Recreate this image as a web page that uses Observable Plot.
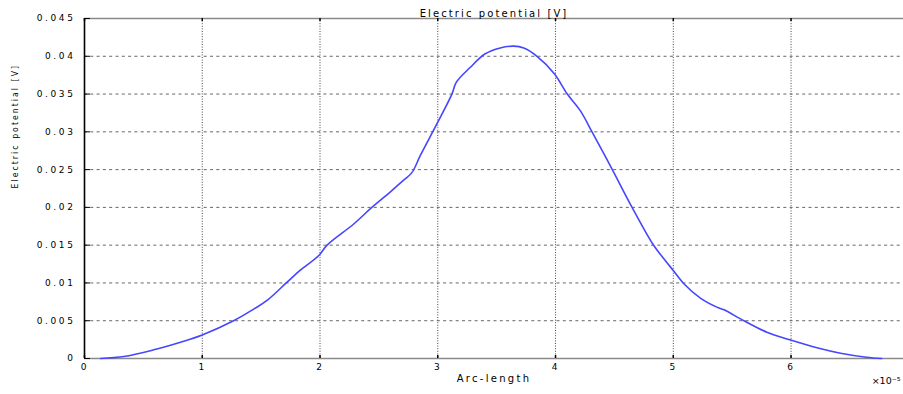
<!DOCTYPE html>
<html>
<head>
<meta charset="utf-8">
<script src="https://cdn.jsdelivr.net/npm/d3@7"></script>
<script src="https://cdn.jsdelivr.net/npm/@observablehq/plot@0.6"></script>
<style>
  html, body { margin: 0; padding: 0; background: #fff; overflow: hidden; }
  #chart svg { display: block; }
</style>
</head>
<body>
<div id="chart"></div>
<script>
// Arc-length (×10^-5)
const arcLength = [0.136, 0.334, 0.588, 0.815, 1.0, 1.27, 1.44, 1.55, 1.72, 1.83, 1.99, 2.06, 2.286, 2.44, 2.60, 2.71, 2.78, 2.852, 3.0, 3.12, 3.158, 3.277, 3.40, 3.53, 3.645, 3.73, 3.843, 3.99, 4.10, 4.21, 4.31, 4.48, 4.65, 4.83, 4.93, 5.0, 5.09, 5.23, 5.37, 5.43, 5.60, 5.795, 5.99, 6.22, 6.42, 6.64, 6.77];
// Electric potential [V]
const potential = [0, 0.00026, 0.00115, 0.00216, 0.00312, 0.00503, 0.00657, 0.00768, 0.0101, 0.01165, 0.01363, 0.0150, 0.0178, 0.0200, 0.0221, 0.0236, 0.0246, 0.02687, 0.03128, 0.0350, 0.03657, 0.03855, 0.0403, 0.0411, 0.04134, 0.0411, 0.0400, 0.0377, 0.0350, 0.0328, 0.0300, 0.02506, 0.0200, 0.01505, 0.0130, 0.01165, 0.0099, 0.0080, 0.0068, 0.00645, 0.0050, 0.00348, 0.00247, 0.00142, 0.0007, 0.00017, 0];
const xTicks = [0, 1, 2, 3, 4, 5, 6];
const yTicks = [0, 0.005, 0.01, 0.015, 0.02, 0.025, 0.03, 0.035, 0.04, 0.045];
const yTickLabels = ["0", "0.005", "0.01", "0.015", "0.02", "0.025", "0.03", "0.035", "0.04", "0.045"];
const titleText = "Electric potential [V]";
const xLabel = "Arc-length";
const yLabel = "Electric potential [V]";
const xExponent = "×10⁻⁵";

const data = arcLength.map((x, i) => ({x, y: potential[i]}));

const W = 903, H = 394, mL = 84, mR = 0, mT = 18, mB = 36;
const plotW = W - mL - mR, plotH = H - mT - mB;

const chart = Plot.plot({
  width: W,
  height: H,
  marginLeft: mL,
  marginRight: mR,
  marginTop: mT,
  marginBottom: mB,
  style: {fontFamily: "DejaVu Sans, sans-serif", fontSize: "9px", color: "#000", background: "#fff", overflow: "visible"},
  x: {domain: [0, 6.955], ticks: xTicks, tickFormat: d => String(d), tickSize: 0, tickPadding: 5, label: null},
  y: {domain: [0, 0.045], ticks: yTicks, tickFormat: d => yTickLabels[yTicks.indexOf(d)], tickSize: 0, tickPadding: 9, label: null},
  marks: [
    Plot.ruleY(yTicks.filter(d => d > 0 && d < 0.045), {stroke: "#666", strokeWidth: 1, strokeDasharray: "3,3.3"}),
    Plot.ruleX(xTicks.filter(d => d > 0), {stroke: "#444", strokeWidth: 1, strokeDasharray: "1,1.6"}),
    Plot.ruleY([0.045], {stroke: "#8a8a8a", strokeWidth: 1.3}),
    Plot.ruleY([0], {stroke: "#8a8a8a", strokeWidth: 1.6}),
    Plot.line(data, {x: "x", y: "y", stroke: "#4646ff", strokeWidth: 1.6, curve: "catmull-rom"}),
    Plot.ruleX([0], {stroke: "#000", strokeWidth: 1.6}),
    Plot.tickY(yTicks, {y: d => d, stroke: "#000", strokeWidth: 1, insetRight: plotW - 6}),
    Plot.tickX(xTicks, {x: d => d, stroke: "#000", strokeWidth: 1.5, insetTop: plotH - 3}),
    Plot.tickX(xTicks, {x: d => d, stroke: "#000", strokeWidth: 1.5, insetBottom: plotH - 3}),
    Plot.text([titleText], {frameAnchor: "top", dy: -9, text: d => d, fontSize: 10, fill: "#000"}),
    Plot.text([xLabel], {frameAnchor: "bottom", dy: 23, text: d => d, fontSize: 10, fill: "#000"}),
    Plot.text([yLabel], {frameAnchor: "left", dx: -69, rotate: -90, text: d => d, fontSize: 8.5, fill: "#000", fontFamily: "DejaVu Sans Condensed, DejaVu Sans, sans-serif"}),
    Plot.text([xExponent], {frameAnchor: "bottom-right", dx: -3, dy: 25, textAnchor: "end", text: d => d, fontSize: 9.5, fill: "#000"})
  ]
});

document.getElementById("chart").appendChild(chart);

// Horizontal stretch look of the original lettering
const svg = d3.select(chart);
svg.selectAll('g[aria-label="y-axis tick label"] text').attr("letter-spacing", "2.6px");
svg.selectAll('g[aria-label="x-axis tick label"] text').attr("letter-spacing", "2px");
svg.selectAll('g[aria-label="text"] text').each(function() {
  const t = this.textContent;
  if (t === titleText) d3.select(this).attr("letter-spacing", "2.1px");
  else if (t === xLabel) d3.select(this).attr("letter-spacing", "2.3px");
});
</script>
</body>
</html>
